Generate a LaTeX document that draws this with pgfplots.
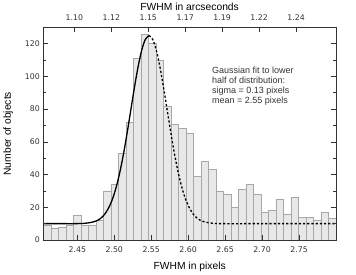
\documentclass[border=0pt]{standalone}
\usepackage{fontspec}
\setmainfont{Liberation Sans}
\newfontfamily\tickfont{DejaVu Sans}
\usepackage{pgfplots}
\pgfplotsset{compat=1.18}
\definecolor{barfill}{HTML}{E8E8E8}
\definecolor{baredge}{HTML}{A8A8A8}
\definecolor{axcol}{HTML}{333333}
\begin{document}
\begin{tikzpicture}
\path[use as bounding box] (0,0) rectangle (356pt,274pt);
\begin{axis}[
  at={(43.3pt,34pt)}, anchor=south west,
  scale only axis, width=292.7pt, height=212.7pt,
  xmin=2.404, xmax=2.800, ymin=0, ymax=130,
  axis on top,
  xtick={2.45,2.50,2.55,2.60,2.65,2.70,2.75},
  xticklabels={2.45,2.50,2.55,2.60,2.65,2.70,2.75},
  xtick pos=left,
  ytick={0,20,40,60,80,100,120},
  minor y tick num=1,
  yticklabel pos=left,
  tick align=inside,
  major tick length=5pt, minor tick length=3pt,
  tick style={axcol, line width=0.6pt},
  axis line style={axcol, line width=0.7pt},
  tick label style={font=\tickfont\fontsize{7.8}{9}\selectfont, text=axcol},
  xticklabel style={yshift=-3.5pt},
  /pgf/number format/assume math mode=true,
  xlabel={FWHM in pixels},
  xlabel style={at={(axis description cs:0.5,0)}, anchor=base, yshift=-29.3pt, font=\fontsize{10.3}{12}\selectfont},
  ylabel={Number of objects},
  ylabel style={at={(axis description cs:-0.1104,0.5)}, anchor=base, font=\fontsize{10.3}{12}\selectfont},
]
\addplot[ybar interval, fill=barfill, draw=baredge, line width=0.5pt] coordinates {
(2.40400,9) (2.41415,7) (2.42430,8) (2.43445,9) (2.44460,15) (2.45475,9)
(2.46490,9) (2.47505,12) (2.48520,30) (2.49535,34) (2.50550,53) (2.51565,72)
(2.52580,111) (2.53595,126) (2.54610,120) (2.55625,110) (2.56640,82) (2.57655,71)
(2.58670,68) (2.59685,65) (2.60700,39) (2.61715,48) (2.62730,43) (2.63745,30)
(2.64760,28) (2.65775,20) (2.66790,31) (2.67805,34) (2.68820,28) (2.69835,17)
(2.70850,18) (2.71865,25) (2.72880,16) (2.73895,26) (2.74910,14) (2.75925,14)
(2.76940,12) (2.77955,17) (2.78970,13) (2.79985,13)
};
\addplot[black, line width=1.3pt, smooth] coordinates {
(2.404,10) (2.427,10) (2.447,10.0) (2.457,10.1) (2.462,10.3) (2.467,10.6)
(2.472,11.1) (2.477,11.9) (2.482,13.4) (2.487,15.7) (2.492,19.3) (2.497,24.3)
(2.502,31.3) (2.507,40.3) (2.512,51.4) (2.517,64.3) (2.522,78.3) (2.527,92.4)
(2.532,105.3) (2.537,115.8) (2.542,122.6) (2.547,125)
};
\addplot[black, line width=1.3pt, smooth, dash pattern=on 2.2pt off 2pt] coordinates {
(2.547,125) (2.552,122.6) (2.557,115.8) (2.562,105.3) (2.567,92.4) (2.572,78.3)
(2.577,64.3) (2.582,51.4) (2.587,40.3) (2.592,31.3) (2.597,24.3) (2.602,19.3)
(2.607,15.7) (2.612,13.4) (2.617,11.9) (2.622,11.1) (2.627,10.6) (2.632,10.3)
(2.637,10.1) (2.647,10) (2.700,10) (2.800,10)
};
\node[anchor=north west, inner sep=0pt, align=left, font=\fontsize{9}{10}\selectfont, text=axcol]
  at (axis cs:2.632,106) {Gaussian fit to lower\\half of distribution:\\sigma = 0.13 pixels\\mean = 2.55 pixels};
\end{axis}
\begin{axis}[
  at={(43.3pt,34pt)}, anchor=south west,
  scale only axis, width=292.7pt, height=212.7pt,
  xmin=2.404, xmax=2.800, ymin=0, ymax=130,
  axis x line*=top, hide y axis,
  xtick={2.446,2.496,2.546,2.596,2.646,2.696,2.746},
  xticklabels={1.10,1.12,1.15,1.17,1.19,1.22,1.24},
  tick align=inside,
  major tick length=5pt,
  tick style={axcol, line width=0.6pt},
  axis line style={-, axcol, line width=0.7pt},
  tick label style={font=\tickfont\fontsize{7.8}{9}\selectfont, text=axcol},
  xticklabel style={yshift=2.8pt},
  xlabel={FWHM in arcseconds},
  xlabel style={at={(axis description cs:0.5,1)}, anchor=base, yshift=16.6pt, font=\fontsize{10.3}{12}\selectfont},
]
\addplot[draw=none] coordinates {(2.5,0)};
\end{axis}
\end{tikzpicture}
\end{document}
